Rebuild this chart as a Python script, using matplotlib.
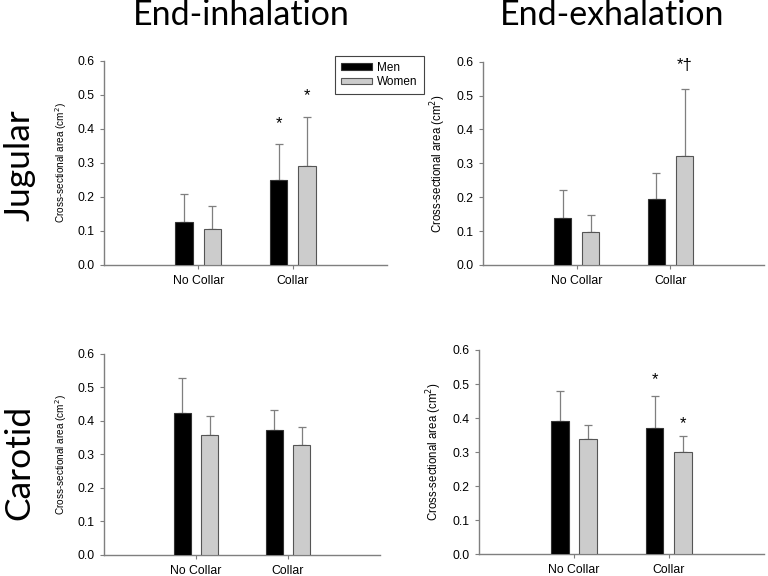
import matplotlib
matplotlib.use("Agg")
import matplotlib.pyplot as plt
import numpy as np

plt.rcParams['font.family'] = ['Liberation Sans', 'DejaVu Sans']

groups = ['No Collar', 'Collar']

# jugular, end-inhalation
jug_in_men = [0.127, 0.249]
jug_in_men_sd = [0.082, 0.107]
jug_in_women = [0.105, 0.291]
jug_in_women_sd = [0.067, 0.143]

# jugular, end-exhalation
jug_ex_men = [0.140, 0.195]
jug_ex_men_sd = [0.080, 0.076]
jug_ex_women = [0.098, 0.322]
jug_ex_women_sd = [0.050, 0.196]

# carotid, end-inhalation
car_in_men = [0.424, 0.372]
car_in_men_sd = [0.103, 0.061]
car_in_women = [0.357, 0.327]
car_in_women_sd = [0.059, 0.055]

# carotid, end-exhalation
car_ex_men = [0.392, 0.370]
car_ex_men_sd = [0.088, 0.096]
car_ex_women = [0.339, 0.299]
car_ex_women_sd = [0.040, 0.047]

# significance marks: (group index, series, y, text)
jug_in_marks = [(1, 'men', 0.414, '*'), (1, 'women', 0.496, '*')]
jug_ex_marks = [(1, 'women', 0.59, '*†')]
car_in_marks = []
car_ex_marks = [(1, 'men', 0.512, '*'), (1, 'women', 0.383, '*')]

fig = plt.figure(figsize=(7.68, 5.76), dpi=100)

ax_pos = [
    [0.1354, 0.540, 0.3685, 0.3547],
    [0.629, 0.540, 0.366, 0.353],
    [0.1354, 0.0365, 0.359, 0.349],
    [0.6237, 0.0377, 0.371, 0.3547],
]
panels = [
    (jug_in_men, jug_in_men_sd, jug_in_women, jug_in_women_sd, jug_in_marks, 7.2),
    (jug_ex_men, jug_ex_men_sd, jug_ex_women, jug_ex_women_sd, jug_ex_marks, 8.3),
    (car_in_men, car_in_men_sd, car_in_women, car_in_women_sd, car_in_marks, 7.2),
    (car_ex_men, car_ex_men_sd, car_ex_women, car_ex_women_sd, car_ex_marks, 8.3),
]

x = np.arange(1, len(groups) + 1)
w = 0.185
off = 0.15
axcol = '#7f7f7f'

for pos, (m, msd, wv, wsd, marks, lab_fs) in zip(ax_pos, panels):
    ax = fig.add_axes(pos)
    bm = ax.bar(x - off, m, w, color='black', edgecolor='#333333', linewidth=0.8,
                label='Men', zorder=3)
    bw = ax.bar(x + off, wv, w, color='#cccccc', edgecolor='#555555', linewidth=0.8,
                label='Women', zorder=3)
    ax.errorbar(x - off, m, yerr=[np.zeros(len(m)), msd], fmt='none',
                ecolor=axcol, elinewidth=0.9, capsize=3, capthick=0.9, zorder=2)
    ax.errorbar(x + off, wv, yerr=[np.zeros(len(wv)), wsd], fmt='none',
                ecolor=axcol, elinewidth=0.9, capsize=3, capthick=0.9, zorder=2)
    for gi, who, yv, txt in marks:
        xx = x[gi] - off if who == 'men' else x[gi] + off
        ax.text(xx, yv, txt, ha='center', va='center', fontsize=12)
    ax.set_xlim(0, 3)
    ax.set_ylim(0, 0.6)
    ax.set_yticks(np.arange(0, 0.61, 0.1))
    ax.set_yticklabels(['%.1f' % v for v in np.arange(0, 0.61, 0.1)])
    ax.set_xticks(x)
    ax.set_xticklabels(groups)
    ax.tick_params(labelsize=8.8, color=axcol, length=3, width=0.8, pad=4)
    for s in ['top', 'right']:
        ax.spines[s].set_visible(False)
    for s in ['left', 'bottom']:
        ax.spines[s].set_color(axcol)
        ax.spines[s].set_linewidth(1.0)
    ax.set_ylabel('Cross-sectional area (cm$^2$)', fontsize=lab_fs, labelpad=6)
    if pos is ax_pos[0]:
        leg = fig.legend([bm, bw], ['Men', 'Women'], loc='upper left',
                         bbox_to_anchor=(329 / 768, 1 - 50 / 576), fontsize=8.5,
                         fancybox=False, framealpha=1, edgecolor='#444444',
                         handlelength=2.6, handleheight=0.5, borderpad=0.5,
                         labelspacing=0.2, handletextpad=0.5)
        leg.get_frame().set_linewidth(0.8)

big = ['Lato', 'DejaVu Sans']
fig.text(241 / 768, 1 - 15 / 576, 'End-inhalation', ha='center', va='center',
         fontsize=24.5, family=big)
fig.text(612 / 768, 1 - 15 / 576, 'End-exhalation', ha='center', va='center',
         fontsize=24.5, family=big)
fig.text(19 / 768, 1 - 165 / 576, 'Jugular', ha='center', va='center',
         rotation=90, fontsize=25.5, family=big)
fig.text(19 / 768, 1 - 462 / 576, 'Carotid', ha='center', va='center',
         rotation=90, fontsize=25.5, family=big)

fig.savefig('out.png', dpi=100)
